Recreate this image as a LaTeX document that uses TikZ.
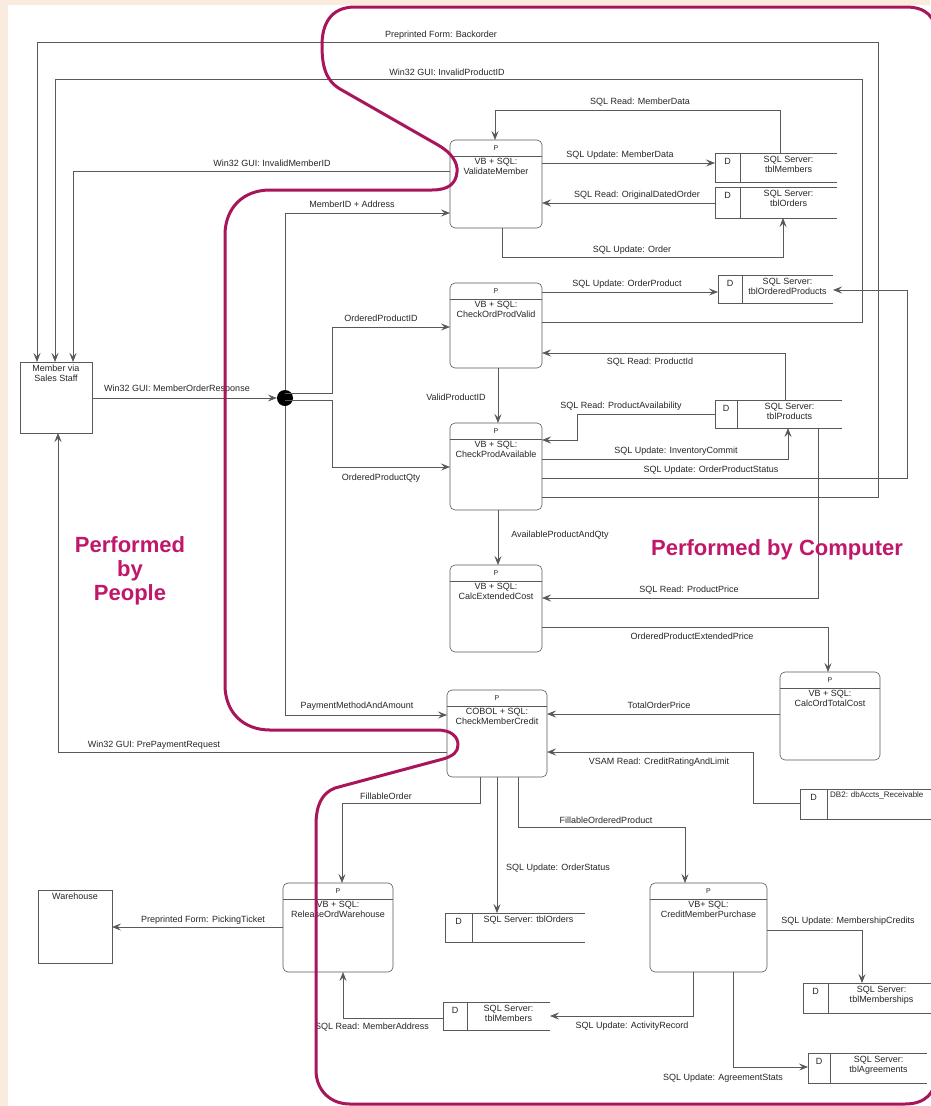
\documentclass[tikz,border=0pt]{standalone}
\usepackage{fontspec}
\setmainfont{Liberation Sans}
\usetikzlibrary{arrows.meta,calc}
\definecolor{beige}{HTML}{F9ECDF}
\definecolor{bound}{HTML}{A8155A}
\definecolor{bigpink}{HTML}{C0176B}
\newcommand{\procnode}[6]{%
  \node[procbox, minimum width={(#4)-(#2)}, minimum height={(#5)-(#3)}] (#1) at ({((#2)+(#4))/2},{((#3)+(#5))/2}) {};
  \draw[ln] ([yshift=-16pt]#1.north west) -- ([yshift=-16pt]#1.north east);
  \node[pfont] (#1p) at ([yshift=-8pt]#1.north) {P};
  \node[lab, align=center, anchor=north] (#1t) at ([yshift=-17pt]#1.north) {#6};
}
\newcommand{\dstore}[7]{%
  \node[inner sep=0pt, outer sep=0pt, minimum width={(#4)-(#2)}, minimum height={(#5)-(#3)}] (#1) at ({((#2)+(#4))/2},{((#3)+(#5))/2}) {};
  \draw[ln] (#1.north east) -- (#1.north west) -- (#1.south west) -- (#1.south east);
  \draw[ln] (#1.north -| #6,0) -- (#1.south -| #6,0);
  \node[lab] (#1d) at ({((#2)+(#6))/2},{(#3)+8}) {D};
  \node[lab, align=center, anchor=north] (#1t) at ({((#6)+(#4))/2},{(#3)+2}) {#7};
}
\begin{document}
\begin{tikzpicture}[x=1pt,y=-1pt,
  lab/.style={font=\fontsize{9}{10}\selectfont, text=black!85, inner sep=1pt},
  pfont/.style={font=\fontsize{7}{8}\selectfont, text=black!85, inner sep=0pt},
  ln/.style={draw=black!65, line width=0.6pt},
  arr/.style={ln, -{Stealth[length=9pt,width=7pt,inset=3.5pt]}},
  procbox/.style={draw=black!65, line width=0.6pt, rounded corners=5pt, inner sep=0pt, outer sep=0pt},
  extbox/.style={draw=black!65, line width=0.6pt, inner sep=0pt, outer sep=0pt},
  bigtxt/.style={font=\fontsize{22}{24}\selectfont\bfseries, text=bigpink, inner sep=0pt},
  boundary/.style={draw=bound, line width=3pt, line join=round}
]
\useasboundingbox (0,0) rectangle (930,1106);
\fill[beige] (0,0) rectangle (930,1106);
\fill[white] (8,5) rectangle (930,1106);

% external entities
\node[extbox, minimum width=72pt, minimum height=71pt] (member) at (56,397.5) {};
\node[lab, align=center, anchor=north] (membert) at (56,364) {Member via\\Sales Staff};
\node[extbox, minimum width=74pt, minimum height=73pt] (warehouse) at (75,926.5) {};
\node[lab, anchor=north] (warehouset) at (75,892) {Warehouse};

% processes
\procnode{vm}{450}{140}{542}{228}{VB + SQL:\\ValidateMember}
\procnode{cv}{450}{283}{542}{368}{VB + SQL:\\CheckOrdProdValid}
\procnode{ca}{450}{423}{542}{510}{VB + SQL:\\CheckProdAvailable}
\procnode{ce}{450}{565}{542}{652}{VB + SQL:\\CalcExtendedCost}
\procnode{cm}{447}{690}{547}{777}{COBOL + SQL:\\CheckMemberCredit}
\procnode{ct}{780}{672}{880}{760}{VB + SQL:\\CalcOrdTotalCost}
\procnode{rw}{283}{883}{393}{972}{VB + SQL:\\ReleaseOrdWarehouse}
\procnode{cp}{650}{883}{767}{972}{VB+ SQL:\\CreditMemberPurchase}

% data stores
\dstore{dsMemA}{715}{153}{837}{182}{740}{SQL Server:\\tblMembers}
\dstore{dsOrdA}{715}{187}{837}{218}{740}{SQL Server:\\tblOrders}
\dstore{dsOP}{718}{275}{833}{303}{742}{SQL Server:\\tblOrderedProducts}
\dstore{dsProd}{715}{400}{842}{428}{737}{SQL Server:\\tblProducts}
\node[inner sep=0pt, outer sep=0pt, minimum width=140pt, minimum height=30pt] (dsAR) at (870,804) {};
\draw[ln] (dsAR.north east) -- (dsAR.north west) -- (dsAR.south west) -- (dsAR.south east);
\draw[ln] (dsAR.north -| 827,0) -- (dsAR.south -| 827,0);
\node[lab] (dsARd) at (813.5,797) {D};
\node[lab, font=\fontsize{8}{9}\selectfont, anchor=north west] (dsARt) at (829,790) {DB2: dbAccts\_Receivable};
\dstore{dsOrdB}{445}{913}{585}{942}{472}{SQL Server: tblOrders}
\dstore{dsMemB}{443}{1002}{550}{1030}{467}{SQL Server:\\tblMembers}
\dstore{dsMS}{803}{983}{935}{1013}{828}{SQL Server:\\tblMemberships}
\dstore{dsAg}{808}{1053}{927}{1083}{830}{SQL Server:\\tblAgreements}

% junction
\node[circle, fill=black, minimum size=16pt, inner sep=0pt] (jn) at (285,398) {};

% connectors
\draw[arr] (ca.east |- 0,497) -- (878,497) -- (878,42) -- (37,42) -- (member.north -| 37,0);
\node[lab] (l1) at (441,35) {Preprinted Form: Backorder};
\draw[arr] (cv.east |- 0,322) -- (862,322) -- (862,79) -- (55,79) -- (member.north -| 55,0);
\node[lab] (l2) at (447,72) {Win32 GUI: InvalidProductID};
\draw[arr] (vm.west |- 0,171) -- (73,171) -- (member.north -| 73,0);
\node[lab] (l3) at (272,163) {Win32 GUI: InvalidMemberID};
\draw[arr] (member.east |- 0,398) -- (jn.west);
\node[lab] (l4) at (177,389) {Win32 GUI: MemberOrderResponse};
\draw[arr] (jn.north) -- (285,213) -- (vm.west |- 0,213);
\node[lab] (l5) at (352,204) {MemberID + Address};
\draw[arr] (jn.center |- 0,393) -- (332,393) -- (332,327) -- (cv.west |- 0,327);
\node[lab] (l6) at (381,318) {OrderedProductID};
\draw[arr] (jn.center |- 0,400) -- (332,400) -- (332,467) -- (ca.west |- 0,467);
\node[lab] (l7) at (381,478) {OrderedProductQty};
\draw[arr] (jn.south) -- (285,715) -- (cm.west |- 0,715);
\node[lab] (l8) at (357,706) {PaymentMethodAndAmount};
\draw[arr] (cm.west |- 0,752) -- (58,752) -- (member.south -| 58,0);
\node[lab] (l9) at (154,745) {Win32 GUI: PrePaymentRequest};
\draw[arr] (dsMemA.north -| 780,0) -- (780,110) -- (495,110) -- (vm.north -| 495,0);
\node[lab] (l10) at (640,102) {SQL Read: MemberData};
\draw[arr] (vm.east |- 0,163) -- (dsMemA.west |- 0,163);
\node[lab] (l11) at (620,155) {SQL Update: MemberData};
\draw[arr] (dsOrdA.west |- 0,203) -- (vm.east |- 0,203);
\node[lab] (l12) at (637,195) {SQL Read: OriginalDatedOrder};
\draw[arr] (vm.south -| 502,0) -- (502,257) -- (783,257) -- (dsOrdA.south -| 783,0);
\node[lab] (l13) at (632,250) {SQL Update: Order};
\draw[arr] (cv.east |- 0,292) -- (dsOP.west |- 0,292);
\node[lab] (l14) at (627,284) {SQL Update: OrderProduct};
\draw[arr] (dsProd.north -| 785,0) -- (785,353) -- (cv.east |- 0,353);
\node[lab] (l15) at (650,362) {SQL Read: ProductId};
\draw[arr] (cv.south -| 498,0) -- (ca.north -| 498,0);
\node[lab] (l16) at (456,397) {ValidProductID};
\draw[arr] (dsProd.west |- 0,414) -- (577,414) -- (577,440) -- (ca.east |- 0,440);
\node[lab] (l17) at (621,406) {SQL Read: ProductAvailability};
\draw[arr] (ca.east |- 0,459) -- (788,459) -- (dsProd.south -| 788,0);
\node[lab] (l18) at (676,451) {SQL Update: InventoryCommit};
\draw[arr] (ca.east |- 0,478) -- (907,478) -- (907,290) -- (dsOP.east |- 0,290);
\node[lab] (l19) at (711,470) {SQL Update: OrderProductStatus};
\draw[arr] (ca.south -| 498,0) -- (ce.north -| 498,0);
\node[lab] (l20) at (560,535) {AvailableProductAndQty};
\draw[arr] (dsProd.south -| 818,0) -- (818,598) -- (ce.east |- 0,598);
\node[lab] (l21) at (689,590) {SQL Read: ProductPrice};
\draw[arr] (ce.east |- 0,627) -- (828,627) -- (ct.north -| 828,0);
\node[lab] (l22) at (692,636) {OrderedProductExtendedPrice};
\draw[arr] (ct.west |- 0,714) -- (cm.east |- 0,714);
\node[lab] (l23) at (659,705) {TotalOrderPrice};
\draw[arr] (dsAR.west |- 0,803) -- (753,803) -- (753,752) -- (cm.east |- 0,752);
\node[lab] (l24) at (659,762) {VSAM Read: CreditRatingAndLimit};
\draw[arr] (cm.south -| 480,0) -- (480,803) -- (342,803) -- (rw.north -| 342,0);
\node[lab] (l25) at (386,796) {FillableOrder};
\draw[arr] (cm.south -| 497,0) -- (dsOrdB.north -| 497,0);
\node[lab] (l26) at (558,868) {SQL Update: OrderStatus};
\draw[arr] (cm.south -| 518,0) -- (518,827) -- (685,827) -- (cp.north -| 685,0);
\node[lab] (l27) at (606,820) {FillableOrderedProduct};
\draw[arr] (rw.west |- 0,927) -- (warehouse.east |- 0,927);
\node[lab] (l28) at (203,920) {Preprinted Form: PickingTicket};
\draw[arr] (dsMemB.west |- 0,1018) -- (343,1018) -- (rw.south -| 343,0);
\node[lab] (l29) at (372,1027) {SQL Read: MemberAddress};
\draw[arr] (cp.south -| 693,0) -- (693,1016) -- (dsMemB.east |- 0,1016);
\node[lab] (l30) at (632,1026) {SQL Update: ActivityRecord};
\draw[arr] (cp.east |- 0,930) -- (862,930) -- (dsMS.north -| 862,0);
\node[lab] (l31) at (848,921) {SQL Update: MembershipCredits};
\draw[arr] (cp.south -| 733,0) -- (733,1067) -- (dsAg.west |- 0,1067);
\node[lab] (l32) at (723,1078) {SQL Update: AgreementStats};

% big labels
\node[bigtxt, align=center] (people) at (130,571) {Performed\\by\\People};
\node[bigtxt] (computer) at (777,550) {Performed by Computer};

% boundary
\draw[boundary] (936,110) -- (936,35)
  .. controls (936,17) and (926,7) .. (906,7)
  -- (355,7)
  .. controls (330,7) and (322,25) .. (322,45)
  .. controls (322,65) and (325,80) .. (340,89)
  -- (438,145)
  .. controls (452,153) and (458,163) .. (457,172)
  .. controls (456,184) and (448,190) .. (432,190)
  -- (270,190)
  .. controls (243,190) and (225,208) .. (225,235)
  -- (225,685)
  .. controls (225,712) and (243,730) .. (270,730)
  -- (437,730)
  .. controls (452,730) and (458,737) .. (458,745)
  .. controls (458,752) and (453,756) .. (443,759)
  -- (335,788)
  .. controls (322,793) and (316,805) .. (316,825)
  -- (316,1070)
  .. controls (316,1090) and (330,1104) .. (350,1104)
  -- (905,1104)
  .. controls (925,1104) and (936,1093) .. (936,1075)
  -- (936,1000);
\end{tikzpicture}
\end{document}
